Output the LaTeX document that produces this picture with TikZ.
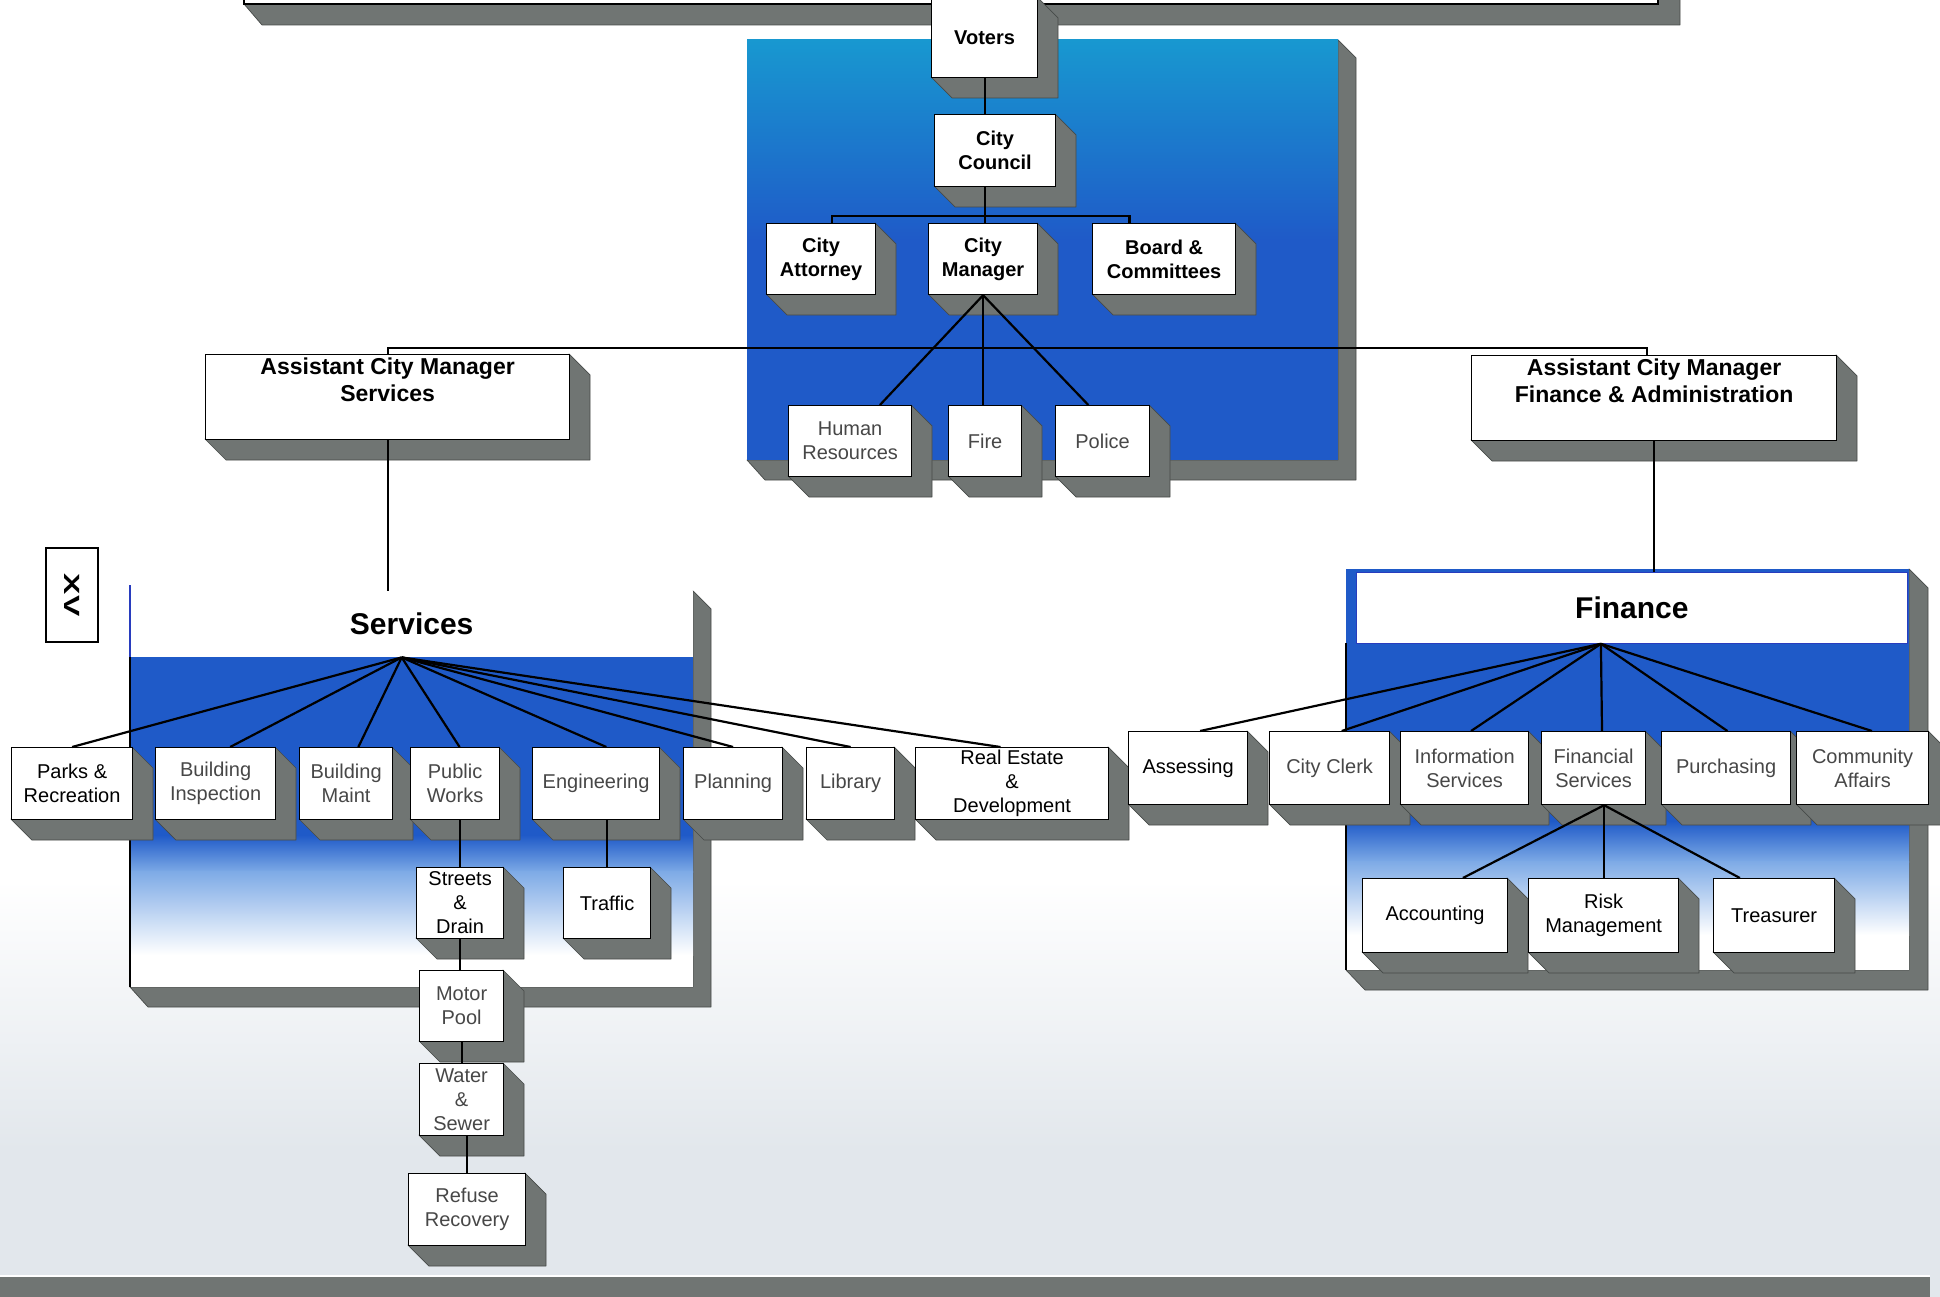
\documentclass[tikz,border=0pt]{standalone}
\usepackage{fontspec}
\usepackage{graphicx}
\setmainfont{Liberation Sans}
\usetikzlibrary{calc}
\definecolor{bdeep}{RGB}{31,90,200}
\definecolor{btop}{RGB}{24,152,208}
\definecolor{blight}{RGB}{125,170,230}
\definecolor{shadowcol}{RGB}{112,117,115}
\definecolor{shadowline}{RGB}{70,74,72}
\definecolor{bgcol}{RGB}{226,231,236}
\definecolor{bline}{RGB}{40,60,190}
\tikzset{
  box/.style={draw=black, line width=1.2pt, fill=white, inner sep=1pt, align=center,
    font=\fontsize{20}{24}\selectfont, text=black!72},
  dbox/.style={text=black},
  bbox/.style={font=\fontsize{20}{24}\selectfont\bfseries, text=black},
  conn/.style={draw=black, line width=2.2pt},
  shadowpoly/.style={fill=shadowcol, draw=shadowline, line width=0.7pt, line join=round},
  acml/.style={anchor=north, align=center, inner sep=0pt, yshift=-4pt,
    font=\fontsize{23}{27}\selectfont\bfseries, text=black},
}
\newcommand\shdep{21}
\newcommand\bx[7][]{%
  \fill[shadowpoly] (#4,#3) -- ({#4+\shdep},{#3+\shdep}) -- ({#4+\shdep},{#5+\shdep})
     -- ({#2+\shdep},{#5+\shdep}) -- (#2,#5) -- (#4,#5) -- cycle;
  \node[box,#1,anchor=north west,minimum width={#4-#2},minimum height={#5-#3}] (#6) at (#2,#3) {#7};}
\begin{document}
\begin{tikzpicture}[x=1pt,y=-1pt]
\useasboundingbox (0,0) rectangle (1940,1297);
% background
\fill[white] (0,0) rectangle (1940,1297);
\shade[top color=white, bottom color=bgcol] (0,880) rectangle (1940,1150);
\fill[bgcol] (0,1149) rectangle (1940,1297);
% bottom bar
\fill[shadowcol] (0,1277) rectangle (1930,1297);
\draw[white, line width=1.5pt] (0,1276) -- (1930,1276);
% top bar
\fill[shadowpoly] (1658,-10) -- (1680,-10) -- (1680,25) -- (262,25) -- (244,4) -- (1658,4) -- cycle;
\draw[line width=1.2pt, fill=white] (244,-10) rectangle (1658,4);
% central panel
\fill[shadowpoly] (1338,40) -- (1356,58) -- (1356,480) -- (765,480) -- (747,460) -- (1338,460) -- cycle;
\shade[top color=btop, bottom color=bdeep] (747,40) rectangle (1338,240);
\fill[bdeep] (747,239) rectangle (1338,460);
% services panel
\fill[shadowpoly] (693,591) -- (711,609) -- (711,1007) -- (148,1007) -- (130,987) -- (693,987) -- cycle;
\fill[white] (130,591) rectangle (693,987);
\fill[bdeep] (130,657) rectangle (693,836);
\shade[top color=bdeep, bottom color=blight] (130,835) rectangle (693,872);
\shade[top color=blight, bottom color=white] (130,871) rectangle (693,955);
\draw[bline, line width=1.5pt] (130,585) -- (130,657);
\draw[black, line width=1.2pt] (130,657) -- (130,987);
\node[font=\fontsize{30}{34}\selectfont\bfseries, minimum width=563, minimum height=66,
  anchor=north west, inner sep=0pt] (svc) at (130,591) {Services};
% finance panel
\fill[shadowpoly] (1909,569) -- (1928,588) -- (1928,990) -- (1365,990) -- (1346,970) -- (1909,970) -- cycle;
\fill[white] (1346,569) rectangle (1909,970);
\fill[bdeep] (1346,569) rectangle (1909,822);
\shade[top color=bdeep, bottom color=blight] (1346,821) rectangle (1909,862);
\shade[top color=blight, bottom color=white] (1346,861) rectangle (1909,935);
\draw[black, line width=1.2pt] (1346,643) -- (1346,970);
\node[fill=white, draw=bline, line width=0.8pt, font=\fontsize{30}{34}\selectfont\bfseries,
  minimum width=551, minimum height=71, anchor=north west, inner sep=0pt] (fin) at (1356,572) {Finance};
% XV
\node[draw=black, line width=1.8pt, fill=white, minimum width=94, minimum height=52, rotate=-90,
  inner sep=0pt, font=\fontsize{22}{24}\selectfont\bfseries] (xv) at (72,595) {\scalebox{1.45}[1]{XV}};
% central boxes
\bx[bbox]{931}{-3}{1037}{77}{voters}{Voters}
\bx[bbox]{934}{114}{1055}{186}{council}{City\\Council}
\bx[bbox]{766}{223}{875}{294}{att}{City\\Attorney}
\bx[bbox]{928}{223}{1037}{294}{mgr}{City\\Manager}
\bx[bbox]{1092}{223}{1235}{294}{board}{Board \&\\Committees}
\bx{788}{405}{911}{476}{hr}{Human\\Resources}
\bx{948}{405}{1021}{476}{fire}{Fire}
\bx{1055}{405}{1149}{476}{police}{Police}
% assistant city managers
\bx[label={[acml]north:{Assistant City Manager\\Services}}]{205}{354}{569}{439}{acms}{}
\bx[label={[acml]north:{Assistant City Manager\\Finance \& Administration}}]{1471}{355}{1836}{440}{acmf}{}
% services row
\bx[dbox]{11}{747}{132}{819}{parks}{Parks \&\\Recreation}
\bx{155}{747}{275}{819}{binsp}{Building\\Inspection}
\bx{299}{747}{392}{819}{bmaint}{Building\\Maint}
\bx{410}{747}{499}{819}{pworks}{Public\\Works}
\bx{532}{747}{659}{819}{eng}{Engineering}
\bx{683}{747}{782}{819}{plan}{Planning}
\bx{806}{747}{894}{819}{lib}{Library}
\bx[dbox]{915}{747}{1108}{819}{realest}{Real Estate\\\&\\Development}
% public works chain
\bx[dbox,inner sep=0pt]{416}{867}{503}{938}{streets}{Streets\\\&\\Drain}
\bx[dbox]{563}{867}{650}{938}{traffic}{Traffic}
\bx{419}{970}{503}{1041}{motor}{Motor\\Pool}
\bx[inner sep=0pt]{419}{1063}{503}{1135}{water}{Water\\\&\\Sewer}
\bx{408}{1173}{525}{1245}{refuse}{Refuse\\Recovery}
% finance row
\bx[dbox]{1128}{731}{1247}{804}{assess}{Assessing}
\bx{1269}{731}{1389}{804}{clerk}{City Clerk}
\bx{1400}{731}{1528}{804}{info}{Information\\Services}
\bx{1541}{731}{1645}{804}{finsvc}{Financial\\Services}
\bx{1661}{731}{1790}{804}{purch}{Purchasing}
\bx{1796}{731}{1928}{804}{comm}{Community\\Affairs}
\bx[dbox]{1362}{878}{1507}{952}{acct}{Accounting}
\bx[dbox]{1528}{878}{1678}{952}{risk}{Risk\\Management}
\bx[dbox]{1713}{878}{1834}{952}{treas}{Treasurer}
% connectors: central
\draw[conn] (voters.south) -- (voters.south |- council.north);
\draw[conn] (voters.south |- council.south) -- (voters.south |- mgr.north);
\coordinate (busL) at ($(att.north west)!0.6!(att.north east)$);
\coordinate (busR) at ($(board.north west)!0.26!(board.north east)$);
\draw[conn] (busL) -- ++(0,-7) -| (busR);
\draw[conn] (mgr.south) -- ($(hr.north west)!0.74!(hr.north east)$);
\draw[conn] (mgr.south) -- (mgr.south |- fire.north);
\draw[conn] (mgr.south) -- ($(police.north west)!0.35!(police.north east)$);
% assistant managers
\draw[conn] (acms.north) -- ++(0,-6) -| ($(acmf.north west)!0.48!(acmf.north east)$);
\draw[conn] (acms.south) -- (acms.south |- svc.north);
\draw[conn] (acmf.south) -- (acmf.south |- fin.north);
% services fan
\coordinate (shub) at ($(svc.south)+(-10,0)$);
\draw[conn] (shub) -- (parks.north);
\draw[conn] (shub) -- ($(binsp.north west)!0.62!(binsp.north east)$);
\draw[conn] (shub) -- ($(bmaint.north west)!0.63!(bmaint.north east)$);
\draw[conn] (shub) -- ($(pworks.north west)!0.55!(pworks.north east)$);
\draw[conn] (shub) -- ($(eng.north west)!0.58!(eng.north east)$);
\draw[conn] (shub) -- (plan.north);
\draw[conn] (shub) -- (lib.north);
\draw[conn] (shub) -- ($(realest.north west)!0.44!(realest.north east)$);
\draw[conn] (streets.north) -- (streets.north |- pworks.south);
\draw[conn] (streets.south) -- (streets.south |- motor.north);
\draw[conn] (motor.south) -- (motor.south |- water.north);
\draw[conn] (refuse.north) -- (refuse.north |- water.south);
\draw[conn] (traffic.north) -- (traffic.north |- eng.south);
% finance fan
\coordinate (fhub) at ($(fin.south)+(-31,0)$);
\draw[conn] (fhub) -- ($(assess.north west)!0.6!(assess.north east)$);
\draw[conn] (fhub) -- ($(clerk.north west)!0.6!(clerk.north east)$);
\draw[conn] (fhub) -- ($(info.north west)!0.55!(info.north east)$);
\draw[conn] (fhub) -- ($(finsvc.north west)!0.58!(finsvc.north east)$);
\draw[conn] (fhub) -- ($(purch.north west)!0.51!(purch.north east)$);
\draw[conn] (fhub) -- ($(comm.north west)!0.57!(comm.north east)$);
\coordinate (fshub) at ($(finsvc.south west)!0.6!(finsvc.south east)$);
\draw[conn] (fshub) -- ($(acct.north west)!0.69!(acct.north east)$);
\draw[conn] (fshub) -- (fshub |- risk.north);
\draw[conn] (fshub) -- ($(treas.north west)!0.22!(treas.north east)$);
\end{tikzpicture}
\end{document}
